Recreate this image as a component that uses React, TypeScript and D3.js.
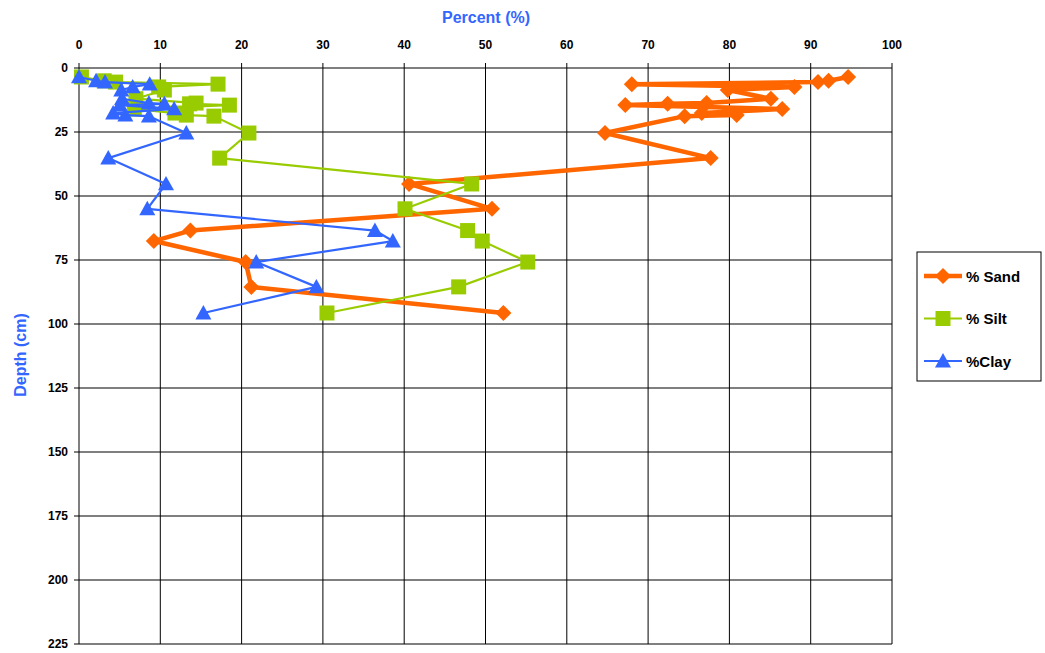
import React from "react";
import * as d3 from "d3";

const depths = [3.5, 5, 5.5, 6.3, 7.4, 8.6, 12, 13.7, 14, 14.5, 16, 17.6, 18.4, 18.8, 25.4, 35.2, 45.3, 55, 63.5, 67.6, 75.8, 85.5, 95.7];
const sand = [94.6, 92.2, 90.9, 68.0, 88.0, 79.8, 85.1, 77.2, 72.4, 67.2, 86.5, 76.6, 80.9, 74.5, 64.7, 77.7, 40.6, 50.8, 13.7, 9.2, 20.5, 21.2, 52.2];
const silt = [0.3, 3.1, 4.5, 17.1, 9.8, 10.5, 7.0, 14.4, 13.6, 18.5, 6.8, 11.8, 13.2, 16.6, 20.9, 17.3, 48.3, 40.1, 47.8, 49.6, 55.2, 46.7, 30.5];
const clay = [0, 2.1, 3.2, 8.7, 6.6, 5.2, 5.3, 8.6, 10.5, 5.0, 11.7, 4.2, 5.7, 8.6, 13.2, 3.6, 10.7, 8.4, 36.4, 38.6, 21.8, 29.2, 15.3];
const xTicks = [0, 10, 20, 30, 40, 50, 60, 70, 80, 90, 100];
const yTicks = [0, 25, 50, 75, 100, 125, 150, 175, 200, 225];
const seriesNames = ["% Sand", "% Silt", "%Clay"];
const seriesColors = ["#FF6600", "#99CC00", "#3366FF"];

const W = 1045, H = 653;
const L = 79, R = 892, T = 68, B = 644;
const FONT = "'Liberation Sans', Arial, sans-serif";

function Marker({ kind, x, y, color }: { kind: number; x: number; y: number; color: string }) {
  if (kind === 0) {
    const s = 8;
    return <path d={`M${x},${y - s}L${x + s},${y}L${x},${y + s}L${x - s},${y}Z`} fill={color} />;
  }
  if (kind === 1) {
    const s = 7.5;
    return <rect x={x - s} y={y - s} width={2 * s} height={2 * s} fill={color} />;
  }
  const s = 8;
  return <path d={`M${x},${y - s}L${x + s},${y + s * 0.8}L${x - s},${y + s * 0.8}Z`} fill={color} />;
}

export default function App() {
  const x = d3.scaleLinear().domain([0, 100]).range([L, R]);
  const y = d3.scaleLinear().domain([0, 225]).range([T, B]);
  const series = [sand, silt, clay];
  const widths = [4.5, 2.2, 2.2];
  const line = d3
    .line<[number, number]>()
    .x((d) => x(d[0]))
    .y((d) => y(d[1]));

  return (
    <svg width={W} height={H} style={{ position: "absolute", left: 0, top: 0 }} fontFamily={FONT}>
      <rect width={W} height={H} fill="#fff" />
      {xTicks.map((t) => (
        <line key={"vx" + t} x1={x(t)} x2={x(t)} y1={T - 5} y2={B} stroke="#000" strokeWidth={1} />
      ))}
      {yTicks.map((t) => (
        <line key={"hy" + t} x1={L - 5} x2={R} y1={y(t)} y2={y(t)} stroke="#000" strokeWidth={1} />
      ))}
      {xTicks.map((t) => (
        <text key={"tx" + t} x={x(t)} y={49} textAnchor="middle" fontSize={12} fontWeight="bold">
          {t}
        </text>
      ))}
      {yTicks.map((t) => (
        <text key={"ty" + t} x={68} y={y(t) + 4} textAnchor="end" fontSize={12} fontWeight="bold">
          {t}
        </text>
      ))}
      <text x={486} y={23} textAnchor="middle" fontSize={16} fontWeight="bold" fill="#3366FF">
        Percent (%)
      </text>
      <text
        transform={`translate(26,355) rotate(-90)`}
        textAnchor="middle"
        fontSize={16}
        fontWeight="bold"
        fill="#3366FF"
      >
        Depth (cm)
      </text>
      {series.map((vals, i) => (
        <g key={"s" + i}>
          <path
            d={line(vals.map((v, j) => [v, depths[j]] as [number, number])) || ""}
            fill="none"
            stroke={seriesColors[i]}
            strokeWidth={widths[i]}
            strokeLinejoin="round"
          />
          {vals.map((v, j) => (
            <Marker key={j} kind={i} x={x(v)} y={y(depths[j])} color={seriesColors[i]} />
          ))}
        </g>
      ))}
      <rect x={917} y={252} width={124} height={129} fill="#fff" stroke="#000" strokeWidth={1} />
      {seriesNames.map((n, i) => {
        const cy = 276 + i * 42.5;
        return (
          <g key={"lg" + i}>
            <line x1={924} x2={962} y1={cy} y2={cy} stroke={seriesColors[i]} strokeWidth={widths[i]} />
            <Marker kind={i} x={943} y={cy} color={seriesColors[i]} />
            <text x={966} y={cy + 5.5} fontSize={15} fontWeight="bold">
              {n}
            </text>
          </g>
        );
      })}
    </svg>
  );
}
